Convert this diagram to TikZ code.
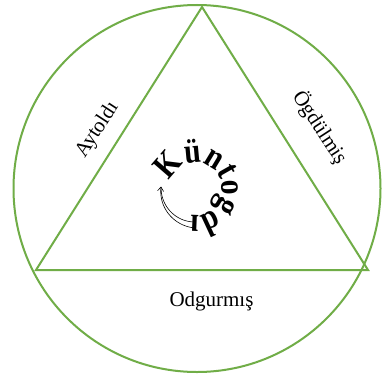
\documentclass[tikz,border=0pt]{standalone}
\usepackage{fontspec}
\setmainfont{Liberation Serif}
\usetikzlibrary{decorations.text,arrows.meta}
\definecolor{ogreen}{RGB}{112,173,71}
\newfontfamily\kfont[FakeStretch=0.85]{Liberation Serif Bold}
\tikzset{
  frame/.style={draw=ogreen, line width=2pt},
  lab/.style={font=\fontsize{21}{21}\selectfont, inner sep=0pt},
  arrowline/.style={draw=black, line width=0.6pt},
}
\begin{document}
\begin{tikzpicture}[x=1pt,y=1pt]
\useasboundingbox (0,0) rectangle (382,376);
\fill[white] (0,0) rectangle (382,376);
\coordinate (O) at (197,187.5);
\coordinate (T) at (202,369);
\coordinate (L) at (36,106);
\coordinate (R) at (368,106);
\coordinate (C) at (196,187);
\draw[frame] (O) circle[radius=183.5];
\draw[frame, line join=miter] (T) -- (L) -- (R) -- cycle;
\node[lab, rotate=57] (ay) at (97.5,246) {Aytoldı};
\node[lab, rotate=-57] (og) at (320,248.5) {Ögdülmiş};
\node[lab] (od) at (211.5,75) {Odgurmış};
\path[decorate, decoration={text along path, text align=center,
  text={|\kfont\fontsize{35}{35}\selectfont|Küntogdı}}]
  (C) ++(200:26) arc[start angle=200, end angle=-137, radius=26];
\draw[arrowline] plot[domain=268:177,samples=40]
  ({196+(33+2*(268-\x)/91)*cos(\x)},{187+(33+2*(268-\x)/91)*sin(\x)});
\draw[arrowline, -{Straight Barb[length=4pt,width=6pt]}] plot[domain=268:176,samples=40]
  ({196+(39-4*(268-\x)/92)*cos(\x)},{187+(39-4*(268-\x)/92)*sin(\x)});
\end{tikzpicture}
\end{document}
